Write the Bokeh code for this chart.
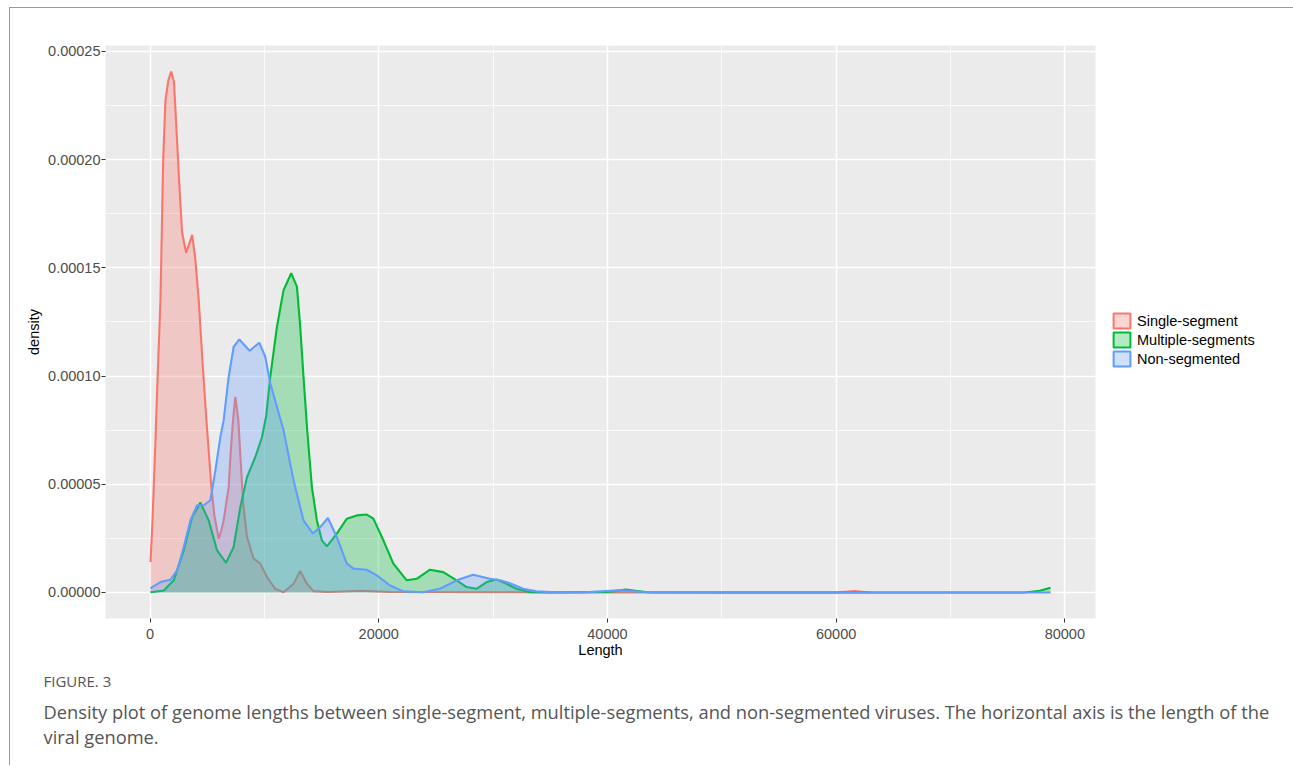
from bokeh.plotting import figure
from bokeh.models import (Range1d, SingleIntervalTicker, PrintfTickFormatter, Legend, LegendItem,
                          ColumnDataSource, Title)
from bokeh.layouts import column
from bokeh.embed import file_html
from bokeh.resources import INLINE

# ---------------- data ----------------
series_names = ["Single-segment", "Multiple-segments", "Non-segmented"]
series_colors = ["#F8766D", "#00BA38", "#619CFF"]

single_x = [35, 210, 341, 472, 646, 908, 1144, 1345, 1607, 1843, 2087, 2218, 2367, 2594, 2803,
            3152, 3397, 3677, 3965, 4253, 4576, 4925, 5360, 5622, 6000, 6233, 6434, 6871, 7063,
            7255, 7456, 7717, 7892, 8023, 8154, 8478, 9054, 9639, 10224, 10949, 11673, 12546,
            13131, 13716, 14292, 15500, 18500, 21000, 30000, 40000, 60000, 61600, 63000]
single_y = [1.40e-5, 3.33e-5, 5.18e-5, 7.03e-5, 9.81e-5, 1.351e-4, 1.999e-4, 2.276e-4, 2.369e-4,
            2.407e-4, 2.360e-4, 2.230e-4, 2.078e-4, 1.846e-4, 1.661e-4, 1.570e-4, 1.606e-4,
            1.652e-4, 1.536e-4, 1.351e-4, 1.073e-4, 7.96e-5, 4.87e-5, 3.56e-5, 2.48e-5, 2.87e-5,
            3.33e-5, 4.87e-5, 6.57e-5, 7.96e-5, 9.04e-5, 7.96e-5, 6.34e-5, 5.18e-5, 4.03e-5,
            2.56e-5, 1.56e-5, 1.33e-5, 7.1e-6, 1.7e-6, 1e-7, 4.0e-6, 9.9e-6, 4.0e-6, 6e-7,
            2e-7, 8e-7, 2e-7, 1e-7, 0, 0, 6e-7, 0]

multi_x = [35, 1196, 2069, 2942, 3675, 4400, 5125, 5858, 6644, 7307, 7892, 8477, 9201, 9786,
           10162, 10511, 11096, 11672, 12344, 12842, 13130, 13418, 13741, 14151, 14588, 15024,
           15461, 16334, 17207, 18080, 18953, 19529, 20402, 21275, 22445, 23318, 24479, 25640,
           26810, 27683, 28556, 29429, 30302, 31175, 32048, 33209, 35000, 40000, 41600, 43500,
           50000, 76500, 77800, 78750]
multi_y = [1e-7, 9e-7, 5.6e-6, 1.94e-5, 3.48e-5, 4.15e-5, 3.33e-5, 1.94e-5, 1.37e-5, 2.10e-5,
           3.95e-5, 5.33e-5, 6.26e-5, 7.17e-5, 8.19e-5, 9.96e-5, 1.228e-4, 1.397e-4, 1.475e-4,
           1.413e-4, 1.228e-4, 9.96e-5, 7.50e-5, 4.87e-5, 3.33e-5, 2.41e-5, 2.13e-5, 2.72e-5,
           3.41e-5, 3.56e-5, 3.60e-5, 3.41e-5, 2.41e-5, 1.33e-5, 5.6e-6, 6.3e-6, 1.05e-5,
           9.4e-6, 5.6e-6, 2.5e-6, 1.7e-6, 4.8e-6, 6.0e-6, 4.0e-6, 1.7e-6, 1.5e-7, 0, 2e-7,
           1.3e-6, 1e-7, 0, 0, 8e-7, 2.2e-6]

non_x = [35, 908, 1781, 2366, 2942, 3527, 4112, 4688, 5273, 5709, 6146, 6434, 6871, 7307, 7805,
         8704, 9551, 10074, 10511, 11096, 11672, 12545, 13418, 14239, 14876, 15548, 16334, 17207,
         17783, 18953, 19826, 20987, 22148, 23894, 25352, 26810, 28259, 29717, 30590, 31463,
         32624, 33794, 34955, 38000, 41000, 44000, 78750]
non_y = [2.0e-6, 4.8e-6, 5.9e-6, 1.02e-5, 2.10e-5, 3.33e-5, 4.03e-5, 4.03e-5, 4.26e-5, 5.64e-5,
         7.19e-5, 7.96e-5, 9.96e-5, 1.135e-4, 1.169e-4, 1.117e-4, 1.154e-4, 1.089e-4, 9.67e-5,
         8.57e-5, 7.50e-5, 5.18e-5, 3.33e-5, 2.72e-5, 3.02e-5, 3.44e-5, 2.56e-5, 1.33e-5,
         1.10e-5, 1.05e-5, 7.9e-6, 3.2e-6, 5e-7, 1e-7, 1.7e-6, 5.6e-6, 8.2e-6, 6.3e-6, 5.6e-6,
         4.3e-6, 1.7e-6, 5e-7, 1.5e-7, 5e-8, 1.0e-6, 0, 0]

x_title = "Length"
y_title = "density"
caption_label = "FIGURE. 3"
caption_lines = [
    "Density plot of genome lengths between single-segment, multiple-segments, and non-segmented viruses. The horizontal axis is the length of the",
    "viral genome.",
]

# ---------------- figure ----------------
all_x = single_x + multi_x + non_x
all_y = single_y + multi_y + non_y
xmin, xmax = min(all_x), max(all_x)
ymin, ymax = 0.0, max(all_y)
xpad = (xmax - xmin) * 0.05
ypad = (ymax - ymin) * 0.05

W = 1282
H = 757
FONT = "Liberation Sans"
FRAME = "#9a9a9a"
ML, MT, FW, FH = 95, 37, 990, 573

p = figure(width=W, height=H, frame_width=FW, frame_height=FH,
           output_backend="svg", toolbar_location=None,
           x_range=Range1d(xmin - xpad, xmax + xpad), y_range=Range1d(ymin - ypad, ymax + ypad),
           min_border_left=ML, min_border_right=W - ML - FW, min_border_top=MT,
           min_border_bottom=H - MT - FH)
p.background_fill_color = "#EBEBEB"
p.border_fill_color = "white"
p.outline_line_color = None

xt = SingleIntervalTicker(interval=20000, num_minor_ticks=2)
yt = SingleIntervalTicker(interval=0.00005, num_minor_ticks=2)
p.xaxis.ticker = xt
p.yaxis.ticker = yt
p.xgrid.ticker = xt
p.ygrid.ticker = yt
p.xaxis.formatter = PrintfTickFormatter(format="%d")
p.yaxis.formatter = PrintfTickFormatter(format="%.5f")

for ax in (p.xaxis, p.yaxis):
    ax.axis_line_color = None
    ax.major_tick_line_color = "#333333"
    ax.major_tick_line_width = 1
    ax.major_tick_out = 4
    ax.major_tick_in = 0
    ax.minor_tick_line_color = None
    ax.major_label_text_font = FONT
    ax.major_label_text_font_size = "14.5px"
    ax.major_label_text_color = "#4D4D4D"
    ax.axis_label_text_font = FONT
    ax.axis_label_text_font_size = "14.5px"
    ax.axis_label_text_font_style = "normal"
    ax.axis_label_text_color = "black"

p.xaxis.axis_label = x_title
p.yaxis.axis_label = y_title
p.xaxis.major_label_standoff = 6
p.yaxis.major_label_standoff = 1
p.xaxis.axis_label_standoff = 0
p.yaxis.axis_label_standoff = 3

for g in (p.xgrid, p.ygrid):
    g.grid_line_color = "white"
    g.grid_line_width = 1.5
    g.minor_grid_line_color = "white"
    g.minor_grid_line_width = 0.7

series = [(single_x, single_y), (multi_x, multi_y), (non_x, non_y)]
items = []
for (xs, ys), col, name in zip(series, series_colors, series_names):
    p.varea(x=xs, y1=[0] * len(xs), y2=ys, fill_color=col, fill_alpha=0.3)
    p.line(x=xs, y=ys, line_color=col, line_width=2.1)
    # legend key only: hidden renderer, drawn by the legend as a bordered translucent box
    src = ColumnDataSource(dict(x=xs, y=ys))
    key = p.quad(left="x", right="x", bottom=0, top="y", source=src, visible=False,
                 fill_color=col, fill_alpha=0.3, line_color=col, line_width=2)
    items.append(LegendItem(label=name, renderers=[key]))

# legend in the right-hand panel (offsets in px from the panel's bottom-left corner)
legend = Legend(items=items, location=(16, 250), glyph_width=21, glyph_height=19, spacing=0,
                label_standoff=5, padding=0, margin=0, border_line_color=None,
                background_fill_alpha=0, label_text_font=FONT, label_text_font_size="14.5px",
                label_text_color="black", label_height=17, click_policy="none")
p.add_layout(legend, "right")

# ---------------- caption (stacked below the x axis) ----------------
p.add_layout(Title(text=caption_label, align="left", offset=-62, standoff=16,
                   vertical_align="bottom", text_font="Open Sans", text_font_size="15px",
                   text_font_style="normal", text_color="#555555"), "below")
p.add_layout(Title(text="\n".join(caption_lines), align="left", offset=-62, standoff=0,
                   vertical_align="top", text_font="Open Sans", text_font_size="18.3px",
                   text_font_style="normal", text_color="#555555"), "below")

layout = column(p, styles={"border-top": f"1px solid {FRAME}",
                           "border-left": f"1px solid {FRAME}",
                           "margin-left": "9px", "margin-top": "7px"})

open("out.html", "w").write(file_html(layout, INLINE))
